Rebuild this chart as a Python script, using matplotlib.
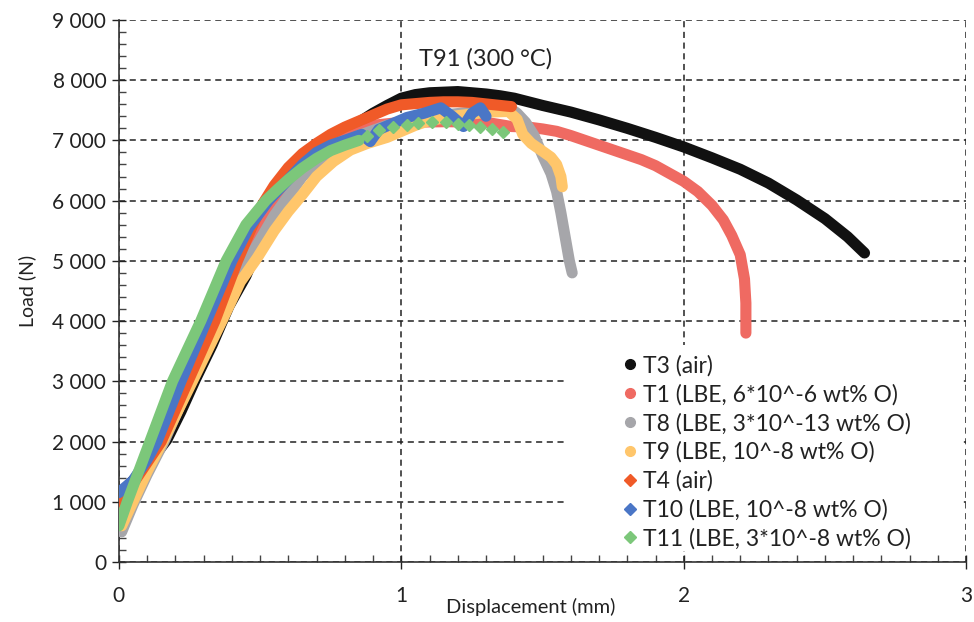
import matplotlib
matplotlib.use("Agg")
import matplotlib.pyplot as plt
from matplotlib.lines import Line2D
from matplotlib.patches import Rectangle
from matplotlib.ticker import MultipleLocator, FuncFormatter

plt.rcParams['font.family'] = ['Lato', 'DejaVu Sans']

# Load-displacement curves (mm, N)
t3_x = [0, 0.05, 0.1, 0.17, 0.22, 0.27, 0.33, 0.39, 0.45, 0.5, 0.55, 0.6, 0.65, 0.7, 0.75, 0.8, 0.85,
        0.9, 0.95, 1.0, 1.05, 1.1, 1.15, 1.2, 1.25, 1.3, 1.35, 1.4, 1.5, 1.6, 1.7, 1.8, 1.9, 2.0,
        2.1, 2.2, 2.3, 2.4, 2.5, 2.58, 2.64]
t3_y = [1100, 1350, 1600, 2030, 2500, 3020, 3600, 4250, 4750, 5300, 5800, 6250, 6550, 6750, 6950, 7150, 7300,
        7450, 7580, 7700, 7760, 7790, 7800, 7810, 7790, 7770, 7740, 7700, 7580, 7470, 7340, 7200, 7050, 6890,
        6710, 6520, 6290, 6010, 5700, 5400, 5130]

t1_x = [0, 0.05, 0.1, 0.15, 0.25, 0.35, 0.45, 0.52, 0.6, 0.7, 0.8, 0.9, 1.0, 1.16, 1.3, 1.39,
        1.45, 1.5, 1.55, 1.6, 1.65, 1.7, 1.75, 1.8, 1.85, 1.9, 1.95, 2.0, 2.05, 2.1, 2.14, 2.17,
        2.2, 2.215, 2.22, 2.22]
t1_y = [900, 1200, 1550, 2000, 3000, 4100, 5000, 5700, 6250, 6800, 7100, 7250, 7300, 7310, 7300, 7230,
        7220, 7190, 7150, 7080, 7000, 6920, 6840, 6760, 6680, 6580, 6450, 6320, 6150, 5920, 5680, 5420,
        5100, 4700, 4300, 3800]

t8_x = [0.01, 0.05, 0.1, 0.16, 0.25, 0.35, 0.45, 0.55, 0.65, 0.75, 0.85, 0.95, 1.05, 1.15, 1.25, 1.3,
        1.35, 1.38, 1.41, 1.44, 1.47, 1.5, 1.53, 1.55, 1.565, 1.58, 1.595, 1.605]
t8_y = [500, 950, 1450, 2000, 2950, 3950, 4950, 5750, 6400, 6800, 7080, 7250, 7350, 7420, 7470, 7500,
        7540, 7550, 7450, 7300, 7080, 6750, 6450, 6150, 5800, 5400, 5000, 4800]

t9_x = [0.01, 0.05, 0.1, 0.155, 0.25, 0.37, 0.43, 0.49, 0.55, 0.6, 0.65, 0.7, 0.76, 0.82, 0.88, 0.95,
        1.0, 1.05, 1.1, 1.2, 1.31, 1.38, 1.41, 1.43, 1.46, 1.5, 1.53, 1.55, 1.565, 1.57]
t9_y = [600, 1000, 1500, 2000, 2900, 4050, 4650, 5050, 5500, 5820, 6100, 6400, 6650, 6840, 6950, 7050,
        7150, 7250, 7330, 7410, 7470, 7480, 7350, 7100, 6950, 6820, 6720, 6600, 6400, 6230]

t4_x = [0, 0.05, 0.1, 0.15, 0.245, 0.34, 0.42, 0.47, 0.51, 0.55, 0.6, 0.65, 0.7, 0.75, 0.8, 0.85,
        0.9, 0.95, 1.0, 1.05, 1.1, 1.15, 1.2, 1.25, 1.31, 1.39]
t4_y = [1000, 1300, 1650, 2000, 3000, 4000, 5000, 5550, 5950, 6250, 6550, 6780, 6950, 7100, 7220, 7320,
        7420, 7520, 7590, 7610, 7630, 7640, 7640, 7630, 7600, 7560]

t10_x = [0, 0.05, 0.1, 0.135, 0.22, 0.31, 0.4, 0.46, 0.53, 0.6, 0.65, 0.7, 0.75, 0.8, 0.86, 0.89,
         0.92, 0.97, 1.02, 1.08, 1.14, 1.18, 1.22, 1.25, 1.28, 1.3]
t10_y = [1150, 1350, 1700, 2000, 3000, 4000, 5000, 5550, 6000, 6350, 6600, 6800, 6920, 7000, 7100, 6980,
         7180, 7280, 7380, 7450, 7540, 7400, 7230, 7450, 7540, 7400]

t11_x = [0, 0.03, 0.07, 0.11, 0.19, 0.29, 0.38, 0.45, 0.52, 0.56, 0.6, 0.65, 0.7, 0.75, 0.8, 0.85,
         0.88, 0.92, 0.97, 1.02, 1.06, 1.11, 1.16, 1.2, 1.24, 1.28, 1.32, 1.36]
t11_y = [600, 1000, 1500, 2000, 3000, 4000, 5000, 5600, 6000, 6180, 6350, 6540, 6700, 6830, 6920, 7000,
         7080, 7180, 7220, 7260, 7290, 7310, 7300, 7280, 7250, 7230, 7190, 7140]

labels = ['T3 (air)', 'T1 (LBE, 6*10^-6 wt% O)', 'T8 (LBE, 3*10^-13 wt% O)', 'T9 (LBE, 10^-8 wt% O)',
          'T4 (air)', 'T10 (LBE, 10^-8 wt% O)', 'T11 (LBE, 3*10^-8 wt% O)']
colors = ['#111111', '#EF6A62', '#A6A6AA', '#FFC66B', '#F05A28', '#4A76C6', '#7CC77A']
markers = ['o', 'o', 'o', 'o', 'D', 'D', 'D']
xs = [t3_x, t1_x, t8_x, t9_x, t4_x, t10_x, t11_x]
ys = [t3_y, t1_y, t8_y, t9_y, t4_y, t10_y, t11_y]

fig = plt.figure(figsize=(9.74, 6.22), dpi=100)
ax = fig.add_axes([0.122, 0.0965, 0.870, 0.8715])

for i in range(len(xs)):
    if i == 6:
        # T11 points are sparse near the maximum
        n = 16
        ax.plot(xs[i][:n], ys[i][:n], color=colors[i], lw=8, solid_capstyle='round',
                solid_joinstyle='round', zorder=3 + i)
        ax.plot(xs[i][n:], ys[i][n:], color=colors[i], ls='none', marker='D', ms=6.5, zorder=3 + i)
    else:
        ax.plot(xs[i], ys[i], color=colors[i], lw=8, solid_capstyle='round',
                solid_joinstyle='round', zorder=3 + i)

ax.set_xlim(0, 3)
ax.set_ylim(0, 9000)
ax.xaxis.set_major_locator(MultipleLocator(1))
ax.xaxis.set_minor_locator(MultipleLocator(0.1))
ax.yaxis.set_major_locator(MultipleLocator(1000))
ax.yaxis.set_minor_locator(MultipleLocator(200))
ax.yaxis.set_major_formatter(FuncFormatter(lambda v, p: f"{int(v):,}".replace(",", " ")))

ax.grid(True, which='major', color='#222222', ls=(0, (4, 3)), lw=1.1)
ax.set_axisbelow(True)
for s in ['top', 'right']:
    ax.spines[s].set_visible(False)
for s in ['left', 'bottom']:
    ax.spines[s].set_color('#333333')
    ax.spines[s].set_linewidth(1.2)

ax.tick_params(which='major', direction='inout', length=10, width=1, labelsize=15, colors='#222222',
               pad=4)
ax.tick_params(which='minor', direction='in', length=5, width=1, colors='#444444')
ax.tick_params(axis='x', which='major', pad=12)

ax.set_xlabel('Displacement (mm)', fontsize=14.5, color='#222222')
ax.xaxis.set_label_coords(0.486, -0.066)
ax.set_ylabel('Load (N)', fontsize=14, color='#222222', labelpad=12)
ax.text(1.3, 8350, 'T91 (300 °C)', fontsize=17, ha='center', va='center', color='#222222')

# white area behind the legend hides the grid there
ax.add_patch(Rectangle((0.528, 0.02), 0.465, 0.38, transform=ax.transAxes,
                       facecolor='white', edgecolor='none', zorder=1))

handles = [Line2D([], [], color=colors[i], marker=markers[i], ls='none', ms=7 if markers[i] == 'o' else 6)
           for i in range(len(labels))]
ax.legend(handles, labels, loc='upper left', bbox_to_anchor=(0.597, 0.382), frameon=False,
          fontsize=16.5, handlelength=0.5, handletextpad=0.3, labelspacing=0.32, borderaxespad=0,
          borderpad=0, labelcolor='#222222')

fig.savefig('out.png', dpi=100)
